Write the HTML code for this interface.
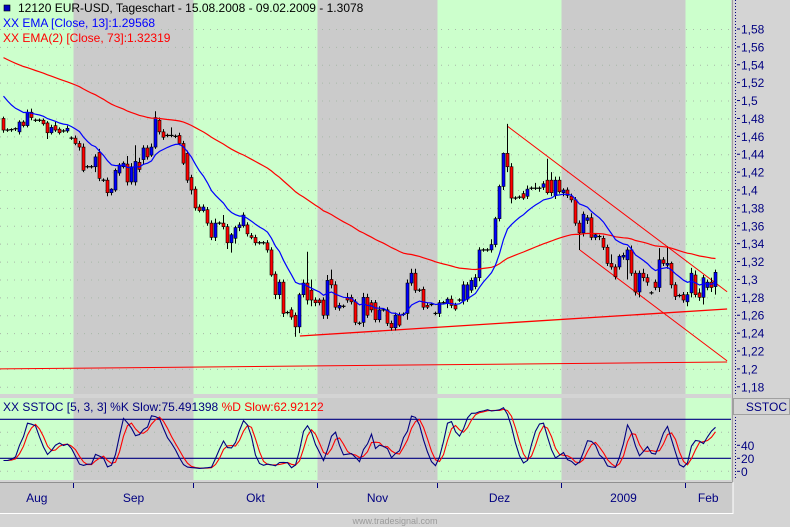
<!DOCTYPE html>
<html><head><meta charset="utf-8"><style>
html,body{margin:0;padding:0;background:#d4d4d4;}
svg{display:block;font-family:"Liberation Sans",sans-serif;}
</style></head><body>
<svg id="chart" width="790" height="527" viewBox="0 0 790 527" xmlns="http://www.w3.org/2000/svg">
<rect x="0" y="0" width="790" height="527" fill="#d4d4d4"/>
<g id="bands"></g>
<g id="grid"></g>
<g id="trend"></g>
<g id="candles"></g>
<g id="emas"></g>
<g id="stoch"></g>
<g id="axes"></g>
<g>
<rect x="4" y="5" width="6" height="6" fill="#0000c0" stroke="#000" stroke-width="0.6"/>
<text x="18" y="12" font-size="12" fill="#000">12120  EUR-USD, Tageschart - 15.08.2008 - 09.02.2009 - 1.3078</text>
<text x="3" y="27" font-size="12" fill="#0000ff">XX EMA [Close, 13]:1.29568</text>
<text x="3" y="42" font-size="12" fill="#ff0000">XX EMA(2) [Close, 73]:1.32319</text>
</g>
<text x="395" y="524" font-size="9" fill="#9a9a9a" text-anchor="middle">www.tradesignal.com</text>
</svg>
<script>
// ---- data: daily candles [open, high, low, close] from 14 Aug 2008 ----
const candleData = [
[1.480,1.482,1.464,1.467],[1.467,1.469,1.465,1.467],[1.467,1.469,1.465,1.468],[1.468,1.470,1.466,1.469],
[1.465,1.478,1.462,1.476],[1.476,1.478,1.470,1.472],[1.472,1.490,1.470,1.487],[1.487,1.491,1.478,1.481],
[1.478,1.480,1.476,1.478],[1.478,1.480,1.476,1.478],[1.478,1.480,1.472,1.474],[1.475,1.477,1.457,1.464],
[1.464,1.473,1.462,1.470],[1.472,1.476,1.465,1.467],[1.468,1.470,1.462,1.464],[1.466,1.468,1.464,1.466],
[1.466,1.472,1.464,1.469],[1.458,1.460,1.456,1.458],[1.458,1.461,1.450,1.452],[1.452,1.455,1.444,1.448],
[1.448,1.452,1.420,1.422],[1.426,1.428,1.424,1.426],[1.426,1.428,1.424,1.426],[1.426,1.440,1.420,1.437],
[1.442,1.446,1.410,1.413],[1.411,1.413,1.409,1.411],[1.411,1.414,1.393,1.397],[1.397,1.402,1.394,1.401],
[1.400,1.424,1.398,1.422],[1.419,1.430,1.416,1.428],[1.426,1.432,1.424,1.430],[1.429,1.438,1.405,1.409],
[1.409,1.430,1.406,1.426],[1.409,1.450,1.405,1.432],[1.431,1.436,1.420,1.423],[1.434,1.450,1.428,1.447],
[1.447,1.450,1.434,1.437],[1.439,1.452,1.437,1.448],[1.448,1.488,1.446,1.481],[1.478,1.481,1.462,1.465],
[1.465,1.468,1.456,1.459],[1.461,1.463,1.459,1.461],[1.461,1.470,1.459,1.461],[1.460,1.462,1.458,1.460],
[1.461,1.464,1.450,1.452],[1.452,1.455,1.428,1.430],[1.441,1.444,1.408,1.411],[1.414,1.417,1.395,1.400],
[1.401,1.404,1.377,1.380],[1.381,1.384,1.375,1.377],[1.377,1.384,1.375,1.381],[1.378,1.381,1.360,1.363],
[1.363,1.366,1.344,1.347],[1.347,1.368,1.343,1.363],[1.363,1.365,1.361,1.363],[1.363,1.372,1.356,1.359],
[1.359,1.362,1.334,1.341],[1.341,1.352,1.330,1.350],[1.346,1.360,1.340,1.358],[1.358,1.364,1.354,1.361],
[1.360,1.375,1.358,1.372],[1.361,1.364,1.348,1.351],[1.349,1.352,1.345,1.347],[1.347,1.350,1.338,1.341],
[1.341,1.343,1.339,1.341],[1.341,1.343,1.339,1.341],[1.341,1.344,1.330,1.333],[1.333,1.336,1.303,1.305],
[1.306,1.309,1.278,1.283],[1.283,1.300,1.278,1.297],[1.297,1.300,1.258,1.262],[1.263,1.265,1.261,1.263],
[1.266,1.269,1.255,1.258],[1.260,1.263,1.236,1.247],[1.247,1.285,1.240,1.283],[1.283,1.300,1.280,1.296],
[1.296,1.331,1.272,1.277],[1.288,1.300,1.270,1.277],[1.277,1.280,1.270,1.274],[1.277,1.279,1.271,1.274],
[1.277,1.280,1.256,1.260],[1.260,1.305,1.256,1.299],[1.300,1.311,1.290,1.294],[1.294,1.298,1.266,1.269],
[1.268,1.274,1.265,1.271],[1.270,1.272,1.268,1.270],[1.280,1.285,1.274,1.277],[1.280,1.283,1.272,1.275],
[1.275,1.278,1.249,1.252],[1.251,1.253,1.249,1.251],[1.252,1.285,1.247,1.280],[1.280,1.284,1.257,1.260],
[1.274,1.277,1.263,1.266],[1.274,1.277,1.252,1.255],[1.255,1.270,1.252,1.266],[1.266,1.268,1.264,1.266],
[1.266,1.269,1.248,1.251],[1.251,1.254,1.243,1.246],[1.246,1.263,1.243,1.260],[1.260,1.263,1.247,1.249],
[1.261,1.263,1.259,1.261],[1.262,1.300,1.255,1.296],[1.296,1.312,1.293,1.307],[1.307,1.312,1.285,1.288],
[1.288,1.290,1.286,1.288],[1.289,1.292,1.266,1.269],[1.271,1.274,1.267,1.269],[1.272,1.274,1.270,1.272],
[1.262,1.264,1.260,1.262],[1.262,1.277,1.258,1.274],[1.274,1.276,1.272,1.274],[1.273,1.280,1.268,1.278],
[1.278,1.282,1.268,1.271],[1.271,1.274,1.265,1.267],[1.277,1.279,1.275,1.277],[1.276,1.298,1.272,1.294],
[1.278,1.297,1.275,1.294],[1.288,1.302,1.285,1.299],[1.292,1.306,1.289,1.302],[1.302,1.336,1.298,1.333],
[1.333,1.335,1.331,1.333],[1.333,1.335,1.331,1.333],[1.333,1.345,1.330,1.339],[1.339,1.370,1.336,1.368],
[1.368,1.406,1.365,1.404],[1.404,1.442,1.400,1.441],[1.441,1.474,1.420,1.426],[1.426,1.430,1.385,1.391],
[1.391,1.393,1.389,1.391],[1.392,1.394,1.390,1.392],[1.396,1.399,1.389,1.391],[1.393,1.405,1.390,1.401],
[1.402,1.404,1.400,1.402],[1.402,1.408,1.400,1.402],[1.402,1.404,1.398,1.402],[1.403,1.410,1.400,1.407],
[1.411,1.435,1.395,1.397],[1.411,1.420,1.393,1.397],[1.394,1.415,1.390,1.411],[1.411,1.415,1.396,1.398],
[1.397,1.402,1.393,1.400],[1.400,1.403,1.391,1.394],[1.393,1.396,1.386,1.389],[1.389,1.392,1.360,1.363],
[1.363,1.366,1.333,1.352],[1.352,1.376,1.348,1.373],[1.366,1.372,1.362,1.369],[1.369,1.374,1.344,1.347],
[1.347,1.352,1.344,1.350],[1.348,1.350,1.344,1.348],[1.346,1.349,1.333,1.336],[1.336,1.339,1.315,1.318],
[1.318,1.328,1.311,1.314],[1.314,1.317,1.300,1.303],[1.314,1.328,1.311,1.326],[1.325,1.330,1.322,1.327],
[1.322,1.336,1.300,1.333],[1.333,1.338,1.304,1.307],[1.307,1.310,1.282,1.286],[1.286,1.310,1.280,1.307],
[1.307,1.312,1.298,1.302],[1.302,1.306,1.293,1.297],[1.285,1.287,1.283,1.285],[1.297,1.300,1.288,1.291],
[1.291,1.335,1.286,1.322],[1.322,1.325,1.315,1.318],[1.316,1.337,1.312,1.318],[1.318,1.320,1.290,1.294],
[1.294,1.297,1.277,1.281],[1.282,1.284,1.280,1.282],[1.283,1.286,1.274,1.277],[1.275,1.286,1.270,1.283],
[1.285,1.313,1.280,1.307],[1.305,1.310,1.280,1.283],[1.285,1.290,1.276,1.280],[1.280,1.305,1.272,1.302],
[1.291,1.300,1.288,1.297],[1.297,1.302,1.286,1.291],[1.292,1.311,1.283,1.308]
];
const monthLabels = ["Aug","Sep","Okt","Nov","Dez","2009","Feb"];
const monthStartIdx = [0,18,48,79,109,140,171];
const priceTicks = [1.58,1.56,1.54,1.52,1.5,1.48,1.46,1.44,1.42,1.4,1.38,1.36,1.34,1.32,1.3,1.28,1.26,1.24,1.22,1.2,1.18];
const priceTickLabels = ["1,58","1,56","1,54","1,52","1,5","1,48","1,46","1,44","1,42","1,4","1,38","1,36","1,34","1,32","1,3","1,28","1,26","1,24","1,22","1,2","1,18"];
const stochTicks = [40,20,0];
const stochLevels = [80,20];
const emaSeed13 = 1.505;
const emaSeed73 = 1.548;
// trend lines: [startIndex, startPrice, endIndex, endPrice]
const trendLineA = [74.1,1.2368,180.9,1.267];
const trendLineB = [-0.9,1.200,180.9,1.2077];
const trendLineC = [125.9,1.4716,180.9,1.2863];
const trendLineD = [144.1,1.3329,180.9,1.209];

const NS="http://www.w3.org/2000/svg";
const PLOT_R=731, MAIN_B=394, LOW_T=398, LOW_B=480;
function xOf(i){return 3.5+4*i;}
function yOf(p){return 29+(1.58-p)*894.5;}
function ySt(v){return 458.3-(v-20)*0.65;}
function mk(tag,attrs,parent){const e=document.createElementNS(NS,tag);for(const k in attrs)e.setAttribute(k,attrs[k]);parent.appendChild(e);return e;}

const bands=document.getElementById('bands');
const edges=monthStartIdx.map(i=>i===0?0:1.5+4*i);
edges.push(PLOT_R);
for(let m=0;m<monthLabels.length;m++){
  const x0=edges[m],x1=edges[m+1];
  const col=m%2===0?"#ccffcc":"#cbcbcb";
  const r1=mk('rect',{x:x0,y:0,width:x1-x0,height:MAIN_B,fill:col},bands);
  
  
  const r2=mk('rect',{x:x0,y:LOW_T,width:x1-x0,height:LOW_B-LOW_T,fill:col},bands);
  
  
}
const grid=document.getElementById('grid');
priceTicks.forEach(p=>{
  const l=mk('line',{x1:0,x2:PLOT_R,y1:yOf(p)+0.5,y2:yOf(p)+0.5,stroke:"#a8b8a8","stroke-width":1,"stroke-dasharray":"1,6"},grid);
  
  
});
[0,40,60].forEach(v=>{
  const l=mk('line',{x1:0,x2:PLOT_R,y1:ySt(v),y2:ySt(v),stroke:"#a8b8a8","stroke-width":1,"stroke-dasharray":"1,6"},grid);
  
  
});

// trend lines
const trend=document.getElementById('trend');
[trendLineA,trendLineB,trendLineC,trendLineD].forEach((t,k)=>{
  const l=mk('line',{x1:xOf(t[0]),y1:yOf(t[1]),x2:xOf(t[2]),y2:yOf(t[3]),stroke:"#ff0000","stroke-width":k===0?1.3:1},trend);
  
  
});

// candles
const cg=document.getElementById('candles');
candleData.forEach((c,i)=>{
  const [o,h,l,cl]=c, x=xOf(i);
  const w=mk('line',{x1:x,x2:x,y1:yOf(h),y2:yOf(l),stroke:"#000","stroke-width":1},cg);
  
  
  const top=yOf(Math.max(o,cl)), bot=yOf(Math.min(o,cl));
  if(bot-top<1.5){
    const d=mk('line',{x1:x-2,x2:x+2,y1:(top+bot)/2,y2:(top+bot)/2,stroke:"#000","stroke-width":1.2},cg);
    
    
  } else {
    const b=mk('rect',{x:x-1.5,y:top,width:3,height:bot-top,fill:cl>=o?"#0000ff":"#ff0000",stroke:"#000","stroke-width":0.6},cg);
    
    
  }
});

// EMAs
const closes=candleData.map(c=>c[3]);
function ema(seed,n){const k=2/(n+1);const out=[];let e=seed;closes.forEach((c,i)=>{if(i>0)e=e+k*(c-e);out.push(e);});return out;}
const eg=document.getElementById('emas');
[[ema(emaSeed73,73),"#ff0000","ema-73-line"],[ema(emaSeed13,13),"#0000ff","ema-13-line"]].forEach(([arr,col,nm])=>{
  const p=mk('polyline',{points:arr.map((v,i)=>xOf(i)+","+yOf(v).toFixed(1)).join(" "),fill:"none",stroke:col,"stroke-width":1.2},eg);
  
  
});

// stochastic
const sg=document.getElementById('stoch');
stochLevels.forEach(v=>{
  const l=mk('line',{x1:0,x2:PLOT_R,y1:ySt(v),y2:ySt(v),stroke:"#000080","stroke-width":1.2},sg);
  
  
});
const raw=[];
candleData.forEach((c,i)=>{const s=Math.max(0,i-4);let hh=-1e9,ll=1e9;for(let j=s;j<=i;j++){hh=Math.max(hh,candleData[j][1]);ll=Math.min(ll,candleData[j][2]);}raw.push(hh>ll?100*(c[3]-ll)/(hh-ll):50);});
function sma(a,n){return a.map((v,i)=>{const s=Math.max(0,i-n+1);let t=0;for(let j=s;j<=i;j++)t+=a[j];return t/(i-s+1);});}
const slowK=sma(raw,3), slowD=sma(slowK,3);
[[slowD,"#ff0000","stoch-d-line"],[slowK,"#000080","stoch-k-line"]].forEach(([arr,col,nm])=>{
  const p=mk('polyline',{points:arr.map((v,i)=>xOf(i)+","+ySt(v).toFixed(1)).join(" "),fill:"none",stroke:col,"stroke-width":1.1},sg);
  
  
});
const st=mk('text',{x:3,y:411,"font-size":12,fill:"#000080"},sg);


st.textContent="XX SSTOC [5, 3, 3] %K Slow:75.491398 ";
const ts=mk('tspan',{fill:"#ff0000"},st);
ts.textContent="%D Slow:62.92122";

// axes
const ax=document.getElementById('axes');
const rp=mk('rect',{x:733,y:0,width:57,height:527,fill:"#d4d4d4"},ax);


const sep=mk('line',{x1:732.5,x2:732.5,y1:0,y2:483,stroke:"#a0a0a0","stroke-width":1},ax);


[[0,MAIN_B],[414,LOW_B]].forEach(([a,b])=>{
  const l=mk('line',{x1:735.5,x2:735.5,y1:a,y2:b,stroke:"#000080","stroke-width":1,"stroke-dasharray":"1,2"},ax);
  
  
});
priceTicks.forEach((p,k)=>{
  const y=yOf(p);
  const tk=mk('line',{x1:737,x2:740,y1:y,y2:y,stroke:"#000080"},ax);
  
  
  const t=mk('text',{x:741,y:y+4.5,"font-size":12,fill:"#000080"},ax);
  
  
  t.textContent=priceTickLabels[k];
});
const sb=mk('rect',{x:733.5,y:398.5,width:56,height:16,fill:"#d4d4d4",stroke:"#a0a0a0"},ax);


const sl=mk('text',{x:787,y:411,"font-size":12,fill:"#000080","text-anchor":"end"},ax);


sl.textContent="SSTOC";
stochTicks.forEach(v=>{
  const y=ySt(v);
  const tk=mk('line',{x1:737,x2:740,y1:y,y2:y,stroke:"#000080"},ax);
  
  
  const t=mk('text',{x:741,y:y+4.5,"font-size":12,fill:"#000080"},ax);
  
  
  t.textContent=String(v);
});
// bottom axis
const bx=mk('rect',{x:0,y:482,width:733,height:31,fill:"#cbcbcb"},ax);


const bt=mk('line',{x1:0,x2:733,y1:482.5,y2:482.5,stroke:"#909090"},ax);


const bb=mk('line',{x1:0,x2:733,y1:513.5,y2:513.5,stroke:"#ffffff"},ax);


const br=mk('line',{x1:733,x2:733,y1:482,y2:514,stroke:"#ffffff"},ax);


for(let m=0;m<monthLabels.length;m++){
  if(m>0){
    const tk=mk('line',{x1:edges[m],x2:edges[m],y1:483,y2:488,stroke:"#000080"},ax);
    
    
  }
  const t=mk('text',{x:(edges[m]+edges[m+1])/2,y:502,"font-size":12,fill:"#000080","text-anchor":"middle"},ax);
  
  
  t.textContent=monthLabels[m];
}
</script>
</body></html>
